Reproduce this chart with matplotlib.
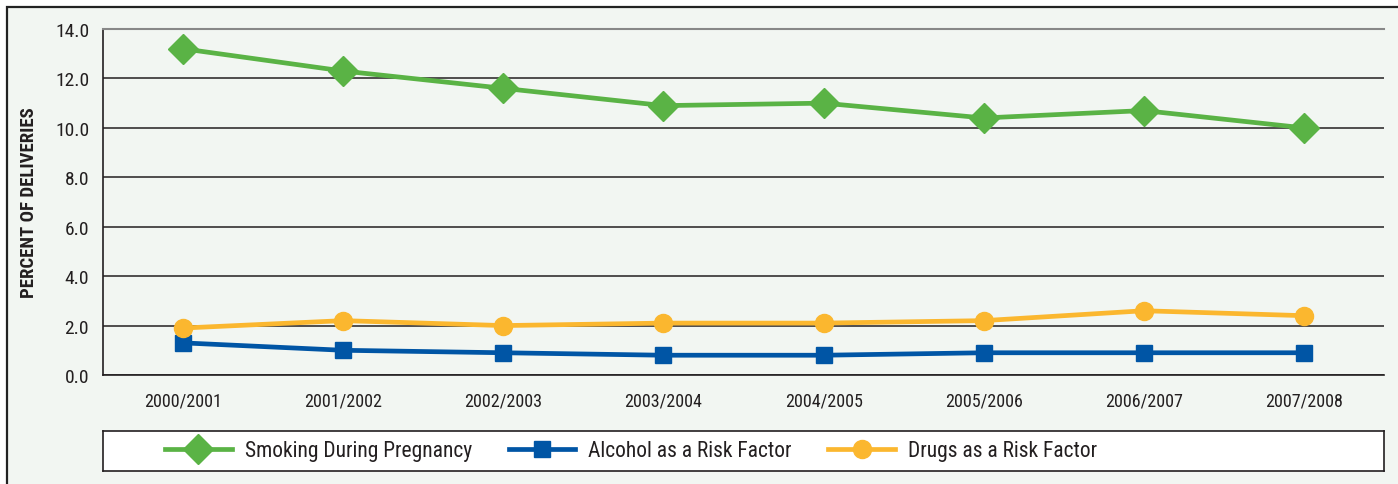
import matplotlib
matplotlib.use("Agg")
import matplotlib.pyplot as plt
from matplotlib.patches import Rectangle

plt.rcParams['font.family'] = ['DejaVu Sans Condensed', 'Roboto Condensed',
                               'Liberation Sans Narrow', 'Roboto', 'DejaVu Sans']

years = ["2000/2001", "2001/2002", "2002/2003", "2003/2004",
         "2004/2005", "2005/2006", "2006/2007", "2007/2008"]
smoking = [13.2, 12.3, 11.6, 10.9, 11.0, 10.4, 10.7, 10.0]
alcohol = [1.3, 1.0, 0.9, 0.8, 0.8, 0.9, 0.9, 0.9]
drugs = [1.9, 2.2, 2.0, 2.1, 2.1, 2.2, 2.6, 2.4]
y_ticks = [0.0, 2.0, 4.0, 6.0, 8.0, 10.0, 12.0, 14.0]

GREEN = "#5ab345"
BLUE = "#0055a5"
YELLOW = "#fbb72f"
BG = "#f2f6f2"

W, H = 1398, 485
fig = plt.figure(figsize=(W / 100, H / 100), dpi=100)
fig.patch.set_facecolor("white")

# outer panel
panel = Rectangle((7 / W, -0.1), 1.1, 1.1 - 8 / H, transform=fig.transFigure,
                  facecolor=BG, edgecolor="#222222", linewidth=1.6, zorder=-10)
fig.patches.append(panel)

def box(x0, y0, x1, y1):
    return [x0 / W, 1 - y1 / H, (x1 - x0) / W, (y1 - y0) / H]

ax = fig.add_axes(box(103, 30, 1384, 376))
ax.set_facecolor(BG)
x = list(range(len(years)))

ax.plot(x, smoking, color=GREEN, lw=3.4, marker="D", ms=15, mec=GREEN,
        label="Smoking During Pregnancy", zorder=5)
ax.plot(x, alcohol, color=BLUE, lw=3.4, marker="s", ms=12, mec=BLUE,
        label="Alcohol as a Risk Factor", zorder=4)
ax.plot(x, drugs, color=YELLOW, lw=3.4, marker="o", ms=13, mec=YELLOW,
        label="Drugs as a Risk Factor", zorder=4)

ax.set_xlim(-0.5, 7.5)
ax.set_ylim(0, 14)
ax.set_yticks(y_ticks)
ax.set_yticklabels([f"{v:.1f}" for v in y_ticks], fontsize=14, color="#231f20")
ax.set_xticks(x)
ax.set_xticklabels(years, fontsize=13, color="#231f20")
ax.tick_params(axis="both", length=0)
ax.tick_params(axis="y", pad=10)
ax.tick_params(axis="x", pad=12)
ax.yaxis.grid(True, color="#231f20", lw=1.1)
ax.set_axisbelow(True)
ax.spines["right"].set_visible(False)
ax.spines["top"].set_color("#888888")
ax.spines["top"].set_linewidth(1.5)
ax.spines["left"].set_color("#231f20")
ax.spines["left"].set_linewidth(1.2)
ax.spines["bottom"].set_color("#231f20")
ax.spines["bottom"].set_linewidth(1.2)

ax.set_ylabel("PERCENT OF DELIVERIES", fontsize=13.5, fontweight="bold",
              color="#231f20", labelpad=12)

# legend box
lax = fig.add_axes(box(103, 432, 1384, 472))
lax.set_facecolor("white")
lax.set_xticks([])
lax.set_yticks([])
for s in lax.spines.values():
    s.set_color("#231f20")
    s.set_linewidth(1.2)
handles, labels = ax.get_legend_handles_labels()
lax.legend(handles, labels, loc="center left", bbox_to_anchor=(0.0484, 0.5), ncol=3,
           frameon=False, fontsize=15.5, handlelength=3.1, handletextpad=0.6,
           columnspacing=1.7, borderaxespad=0, borderpad=0, labelcolor="#231f20")

fig.savefig("out.png", dpi=100, facecolor=fig.get_facecolor())
